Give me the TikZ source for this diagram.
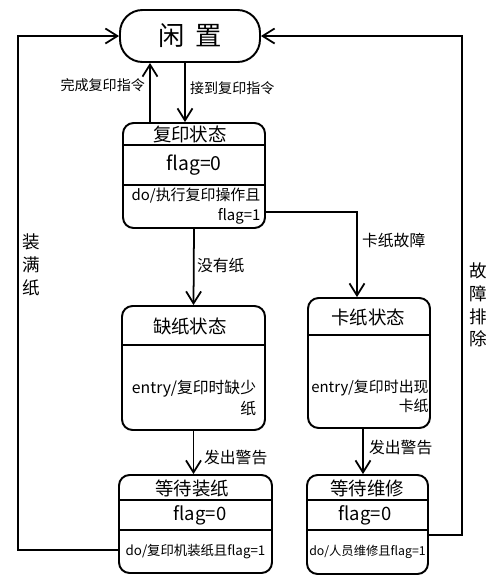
\documentclass[tikz,border=0pt]{standalone}
\usepackage{fontspec}
\setmainfont{Noto Sans CJK SC}
\usetikzlibrary{arrows.meta}
\tikzset{
  state/.style={draw,line width=1.1pt,rounded corners=6pt,inner sep=0pt},
  part/.style={line width=1.1pt},
  flow/.style={line width=1pt,-{Straight Barb[length=2.4mm,width=3mm]}},
  head/.style={font=\fontsize{10.5}{12}\selectfont},
  body/.style={font=\fontsize{8.5}{11}\selectfont,align=right,inner sep=1pt},
  lbl/.style={font=\fontsize{8}{9}\selectfont,inner sep=1pt},
  vlbl/.style={font=\fontsize{10}{13}\selectfont,align=center,inner sep=1pt}
}
\begin{document}
\begin{tikzpicture}[x=0.02cm,y=-0.02cm]
\useasboundingbox (0,0) rectangle (500,586);

\node[state,rounded corners=0.45cm,minimum width=2.8cm,minimum height=1.04cm,font=\fontsize{15}{18}\selectfont] (idle) at (190,36) {闲\hspace{0.4em}置};

\node[state,minimum width=2.84cm,minimum height=2.1cm] (copy) at (194,175.5) {};
\draw[part] (copy.west |- 0,145) -- (copy.east |- 0,145);
\draw[part] (copy.west |- 0,185) -- (copy.east |- 0,185);
\node[head] (copyh) at (190,134) {复印状态};
\node[head,font=\fontsize{11}{12}\selectfont] (copyf) at (194,165) {flag=0};
\node[body] (copyd) at (196,206) {do/执行复印操作且\\flag=1};

\node[state,minimum width=2.86cm,minimum height=2.48cm] (lack) at (193.5,368) {};
\draw[part] (lack.west |- 0,345) -- (lack.east |- 0,345);
\node[head] (lackh) at (190,326) {缺纸状态};
\node[body,font=\fontsize{9}{12}\selectfont] (lackd) at (194,398) {entry/复印时缺少\\纸};

\node[state,minimum width=2.44cm,minimum height=2.6cm] (jam) at (369,363) {};
\draw[part] (jam.west |- 0,335) -- (jam.east |- 0,335);
\node[head] (jamh) at (368,317) {卡纸状态};
\node[body] (jamd) at (370,396) {entry/复印时出现\\卡纸};

\node[state,minimum width=3.06cm,minimum height=1.96cm] (waitpaper) at (195.5,524) {};
\draw[part] (waitpaper.west |- 0,500) -- (waitpaper.east |- 0,500);
\draw[part] (waitpaper.west |- 0,530) -- (waitpaper.east |- 0,530);
\node[head] (waitpaperh) at (192,488) {等待装纸};
\node[head] (waitpaperf) at (200,515) {flag=0};
\node[body,font=\fontsize{7.6}{10}\selectfont] (waitpaperd) at (195.5,552) {do/复印机装纸且flag=1};

\node[state,minimum width=2.42cm,minimum height=1.98cm] (waitfix) at (367.5,524.5) {};
\draw[part] (waitfix.west |- 0,500) -- (waitfix.east |- 0,500);
\draw[part] (waitfix.west |- 0,530) -- (waitfix.east |- 0,530);
\node[head] (waitfixh) at (367,488) {等待维修};
\node[head] (waitfixf) at (365,515) {flag=0};
\node[body,font=\fontsize{7}{10}\selectfont] (waitfixd) at (367.5,552) {do/人员维修且flag=1};

\coordinate (up) at (150,0);
\coordinate (dn) at (185,0);
\coordinate (jk) at (357,212);
\coordinate (wr) at (363,0);
\coordinate (lb) at (18,550);
\coordinate (lt) at (18,36);
\coordinate (rb) at (462,535);
\coordinate (rt) at (462,36);

\draw[flow] (copy.north -| up) -- (idle.south -| up);
\draw[flow] (idle.south -| dn) -- (copy.north -| dn);
\draw[flow] (copy.south) -- (lack.north);
\draw[flow] (copy.east |- jk) -| (jam.north -| jk);
\draw[flow] (lack.south) -- (lack.south |- waitpaper.north);
\draw[flow] (jam.south -| wr) -- (waitfix.north -| wr);
\draw[flow] (waitpaper.west |- lb) -- (lb) -- (lt) -- (idle.west);
\draw[flow] (waitfix.east |- rb) -- (rb) -- (rt) -- (idle.east);

\node[lbl,anchor=east] (done) at (147,85) {完成复印指令};
\node[lbl,anchor=west] (recv) at (188,88) {接到复印指令};
\node[lbl,font=\fontsize{9}{10}\selectfont,anchor=west] (nopaper) at (195,265) {没有纸};
\node[lbl,font=\fontsize{9}{10}\selectfont,anchor=west] (jamfault) at (360,240) {卡纸故障};
\node[lbl,font=\fontsize{9}{10}\selectfont,anchor=west] (warnl) at (202,458) {发出警告};
\node[lbl,font=\fontsize{9}{10}\selectfont,anchor=west] (warnr) at (367,448) {发出警告};
\node[vlbl] (fill) at (31,265) {装\\满\\纸};
\node[vlbl] (fixed) at (478,305) {故\\障\\排\\除};
\end{tikzpicture}
\end{document}
